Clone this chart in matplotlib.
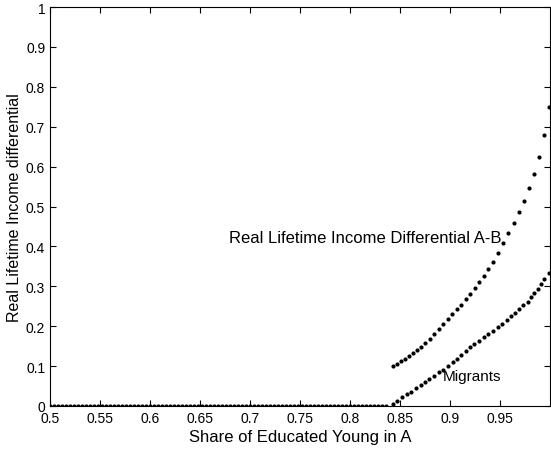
import matplotlib
matplotlib.use("Agg")
import matplotlib.pyplot as plt

# flat part: both curves sit at zero before migration starts
x_flat = [
    0.500, 0.504, 0.508, 0.512, 0.516, 0.520, 0.524, 0.528, 0.532, 0.536,
    0.540, 0.544, 0.548, 0.552, 0.556, 0.560, 0.564, 0.568, 0.572, 0.576,
    0.580, 0.584, 0.588, 0.592, 0.596, 0.600, 0.604, 0.608, 0.612, 0.616,
    0.620, 0.624, 0.628, 0.632, 0.636, 0.640, 0.644, 0.648, 0.652, 0.656,
    0.660, 0.664, 0.668, 0.672, 0.676, 0.680, 0.684, 0.688, 0.692, 0.696,
    0.700, 0.704, 0.708, 0.712, 0.716, 0.720, 0.724, 0.728, 0.732, 0.736,
    0.740, 0.744, 0.748, 0.752, 0.756, 0.760, 0.764, 0.768, 0.772, 0.776,
    0.780, 0.784, 0.788, 0.792, 0.796, 0.800, 0.804, 0.808, 0.812, 0.816,
    0.820, 0.824, 0.828, 0.832, 0.836,
]
y_flat = [0.0] * len(x_flat)

# income differential A-B
x_diff = [
    0.843, 0.847, 0.851, 0.855, 0.859, 0.863, 0.867, 0.871, 0.875, 0.8795,
    0.884, 0.8885, 0.893, 0.8975, 0.902, 0.9065, 0.911, 0.9155, 0.920, 0.9245,
    0.929, 0.9335, 0.938, 0.943, 0.948, 0.953, 0.958, 0.9635, 0.9685, 0.9735,
    0.979, 0.9837, 0.9885, 0.994, 0.999,
]
y_diff = [
    0.100, 0.106, 0.112, 0.119, 0.126, 0.133, 0.141, 0.149, 0.158, 0.168,
    0.180, 0.192, 0.205, 0.218, 0.230, 0.242, 0.254, 0.267, 0.281, 0.296,
    0.311, 0.326, 0.343, 0.362, 0.384, 0.408, 0.433, 0.459, 0.486, 0.514,
    0.546, 0.582, 0.625, 0.679, 0.750,
]

# migrants
x_migr = [
    0.843, 0.847, 0.852, 0.857, 0.861, 0.866, 0.871, 0.875, 0.879, 0.884,
    0.889, 0.893, 0.898, 0.903, 0.907, 0.911, 0.916, 0.920, 0.924, 0.929,
    0.934, 0.938, 0.943, 0.948, 0.952, 0.957, 0.961, 0.965, 0.969, 0.973,
    0.978, 0.981, 0.984, 0.988, 0.991, 0.994, 0.999,
]
y_migr = [
    0.005, 0.013, 0.022, 0.029, 0.036, 0.044, 0.053, 0.059, 0.068, 0.076,
    0.084, 0.091, 0.099, 0.110, 0.118, 0.128, 0.139, 0.147, 0.155, 0.164,
    0.172, 0.180, 0.189, 0.197, 0.206, 0.216, 0.226, 0.233, 0.243, 0.253,
    0.261, 0.272, 0.283, 0.294, 0.305, 0.318, 0.334,
]

x_ticks = [0.5, 0.55, 0.6, 0.65, 0.7, 0.75, 0.8, 0.85, 0.9, 0.95]
x_ticklabels = ["0.5", "0.55", "0.6", "0.65", "0.7", "0.75", "0.8", "0.85", "0.9", "0.95"]
y_ticks = [0, 0.1, 0.2, 0.3, 0.4, 0.5, 0.6, 0.7, 0.8, 0.9, 1]
y_ticklabels = ["0", "0.1", "0.2", "0.3", "0.4", "0.5", "0.6", "0.7", "0.8", "0.9", "1"]

plt.rcParams["font.family"] = ["Liberation Sans", "DejaVu Sans"]
plt.rcParams["font.size"] = 10

fig = plt.figure(figsize=(5.51, 4.52), dpi=100)
ax = fig.add_axes([50 / 551, 45 / 452, 500 / 551, 399 / 452])

dot = dict(linestyle="none", marker="o", markersize=3.0, color="black", markeredgewidth=0)
ax.plot(x_flat, y_flat, **dot)
ax.plot(x_diff, y_diff, **dot)
ax.plot(x_migr, y_migr, **dot)

ax.text(0.679, 0.423, "Real Lifetime Income Differential A-B", va="center", ha="left", fontsize=12)
ax.text(0.893, 0.075, "Migrants", va="center", ha="left", fontsize=11)

ax.set_xlim(0.5, 1.0)
ax.set_ylim(0, 1)
ax.set_xticks(x_ticks, x_ticklabels)
ax.set_yticks(y_ticks, y_ticklabels)
ax.tick_params(direction="in", top=True, right=True, length=4, width=0.8, pad=3.5, labelsize=10)
for s in ax.spines.values():
    s.set_linewidth(0.8)

ax.set_xlabel("Share of Educated Young in A", fontsize=12, labelpad=3)
ax.set_ylabel("Real Lifetime Income differential", fontsize=11.5, labelpad=3)

fig.savefig("out.png", dpi=100)
